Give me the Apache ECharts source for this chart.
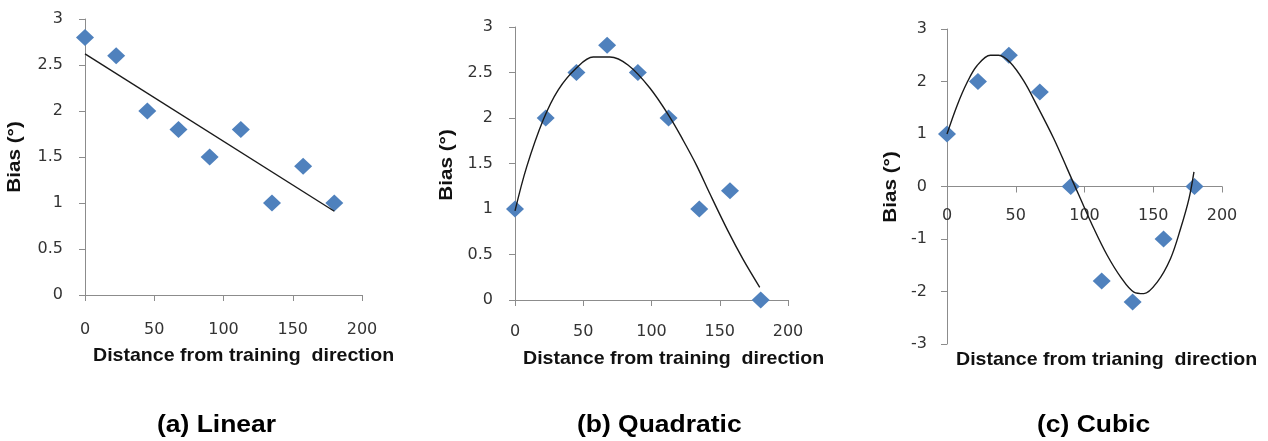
<!DOCTYPE html>
<html>
<head>
<meta charset="utf-8">
<title>Bias vs. distance from training direction</title>
<script src="https://cdn.jsdelivr.net/npm/echarts@6/dist/echarts.min.js"></script>
<style>
  html, body { margin: 0; padding: 0; background: #ffffff; }
  #chart { width: 1268px; height: 441px; }
</style>
</head>
<body>
<div id="chart"></div>
<script>
// Measured bias at each distance from the training direction (degrees)
const xDist = [0, 22.5, 45, 67.5, 90, 112.5, 135, 157.5, 180];
const biasLinear = [2.8, 2.6, 2.0, 1.8, 1.5, 1.8, 1.0, 1.4, 1.0];
const biasQuadratic = [1.0, 2.0, 2.5, 2.8, 2.5, 2.0, 1.0, 1.2, 0.0];
const biasCubic = [1.0, 2.0, 2.5, 1.8, 0.0, -1.8, -2.2, -1.0, 0.0];

// Fitted trend curves
const linFitX = [0, 180];
const linFitY = [2.62, 0.91];
const quadFitX = [0, 8.5, 20.7, 31.7, 45, 57.3, 69.5, 83, 98.8, 113.4, 123, 133, 142.7, 156, 167, 179.3];
const quadFitY = [0.98, 1.46, 1.98, 2.31, 2.55, 2.67, 2.67, 2.58, 2.33, 2.01, 1.76, 1.48, 1.17, 0.76, 0.45, 0.14];
const cubicFitX = [0, 7.3, 14.6, 21.8, 31.6, 37.6, 46, 55.8, 65.5, 77.7, 87.4, 97, 106.8, 116.5, 126.2, 135.9, 143.2, 152.9, 162.6, 169.9, 176, 179.6];
const cubicFitY = [1.0, 1.54, 1.98, 2.30, 2.50, 2.50, 2.36, 2.01, 1.54, 0.91, 0.34, -0.23, -0.80, -1.31, -1.72, -2.01, -2.04, -1.82, -1.37, -0.80, -0.23, 0.28];

// Axis ranges and text
const xRange = { min: 0, max: 200, interval: 50 };
const yRanges = [
  { min: 0, max: 3, interval: 0.5 },
  { min: 0, max: 3, interval: 0.5 },
  { min: -3, max: 3, interval: 1 }
];
const yTitle = 'Bias (\u00b0)';
const xTitles = ['Distance from training  direction', 'Distance from training  direction', 'Distance from trianing  direction'];
const captions = ['(a) Linear', '(b) Quadratic', '(c) Cubic'];

const pairs = (xs, ys) => xs.map((x, i) => [x, ys[i]]);

const axisGrey = '#8c8c8c';
const tickFont = { fontFamily: 'DejaVu Sans', fontSize: 16, color: '#333333' };
const markerBlue = '#4f81bd';

const grids = [
  { left: 85, top: 19, width: 277, height: 276 },
  { left: 515, top: 27, width: 273, height: 273 },
  { left: 947, top: 29, width: 275, height: 315 }
];
const xLabelMargins = [27, 24, 21];
const yLabelMargins = [22, 22, 20];

// The horizontal axis sits where y = 0; move it up from the grid bottom by that much
const zeroOffset = (g, r) => -g.height * (0 - r.min) / (r.max - r.min);

const xAxes = grids.map((g, i) => ({
  type: 'value', gridIndex: i,
  min: xRange.min, max: xRange.max, interval: xRange.interval,
  position: 'bottom',
  offset: zeroOffset(g, yRanges[i]),
  splitLine: { show: false },
  axisLine: { onZero: false, lineStyle: { color: axisGrey, width: 1 } },
  axisTick: { show: true, length: 6, lineStyle: { color: axisGrey } },
  axisLabel: Object.assign({ margin: xLabelMargins[i], showMinLabel: true, showMaxLabel: true }, tickFont)
}));

const yAxes = yRanges.map((r, i) => ({
  type: 'value', gridIndex: i,
  min: r.min, max: r.max, interval: r.interval,
  splitLine: { show: false },
  axisLine: { show: true, onZero: false, lineStyle: { color: axisGrey, width: 1 } },
  axisTick: { show: true, length: 6, lineStyle: { color: axisGrey } },
  axisLabel: Object.assign({ margin: yLabelMargins[i], showMinLabel: true, showMaxLabel: true }, tickFont)
}));

const pointSets = [biasLinear, biasQuadratic, biasCubic];
const fitSets = [[linFitX, linFitY], [quadFitX, quadFitY], [cubicFitX, cubicFitY]];

const series = [];
pointSets.forEach((ys, i) => {
  series.push({
    type: 'scatter', xAxisIndex: i, yAxisIndex: i,
    data: pairs(xDist, ys),
    symbol: 'diamond', symbolSize: [18, 17],
    itemStyle: { color: markerBlue, opacity: 1 },
    z: 2
  });
});
fitSets.forEach(([fx, fy], i) => {
  series.push({
    type: 'line', xAxisIndex: i, yAxisIndex: i,
    data: pairs(fx, fy),
    smooth: i === 0 ? false : 0.35,
    showSymbol: false, symbol: 'none',
    lineStyle: { color: '#1a1a1a', width: 1.4 },
    z: 3
  });
});

// Axis titles and panel captions
const xTitlePos = [[93, 356], [523, 359], [956, 360]];
const yTitlePos = [[15, 157], [447, 165], [891, 187]];
const captionPos = [[157, 426], [577, 426], [1037, 426]];

const graphic = [];
xTitles.forEach((t, i) => {
  graphic.push({
    type: 'text', x: xTitlePos[i][0], y: xTitlePos[i][1], scaleX: 1.03,
    style: { text: t, fill: '#111', font: 'bold 19px "Liberation Sans", Arial, sans-serif', textAlign: 'left', textVerticalAlign: 'middle' }
  });
});
yTitlePos.forEach((p) => {
  graphic.push({
    type: 'text', x: p[0], y: p[1], rotation: Math.PI / 2, scaleX: 1.15,
    style: { text: yTitle, fill: '#111', font: 'bold 18px "Liberation Sans", Arial, sans-serif', textAlign: 'center', textVerticalAlign: 'middle' }
  });
});
captions.forEach((t, i) => {
  graphic.push({
    type: 'text', x: captionPos[i][0], y: captionPos[i][1], scaleX: 1.15,
    style: { text: t, fill: '#000', font: 'bold 23px "Liberation Sans", Arial, sans-serif', textAlign: 'left', textVerticalAlign: 'middle' }
  });
});

const chart = echarts.init(document.getElementById('chart'), null, { renderer: 'canvas' });
chart.setOption({
  animation: false,
  backgroundColor: '#ffffff',
  grid: grids,
  xAxis: xAxes,
  yAxis: yAxes,
  series: series,
  graphic: graphic
});
</script>
</body>
</html>
